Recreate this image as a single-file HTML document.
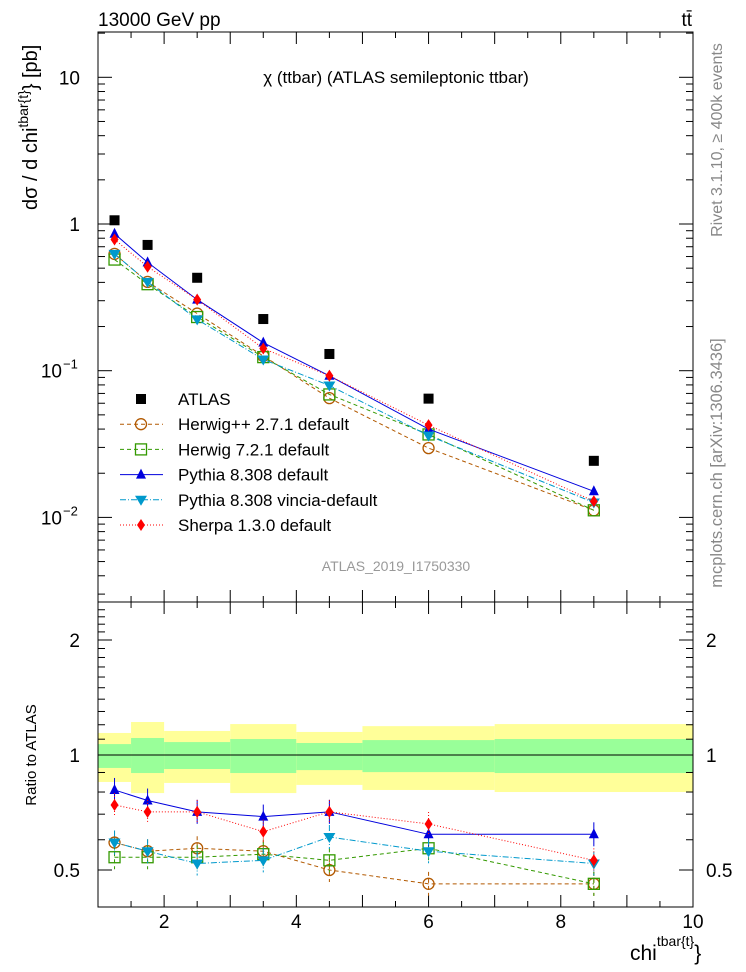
<!DOCTYPE html>
<html><head><meta charset="utf-8"><style>
body{margin:0;background:#fff;}
svg{display:block;font-family:"Liberation Sans",sans-serif;}
</style></head><body>
<svg id="chart" width="746" height="972" viewBox="0 0 746 972" xmlns="http://www.w3.org/2000/svg">
<g id="bands"></g>
<g id="axes"></g>
<g id="series"></g>
<text x="98" y="26" font-size="19">13000 GeV pp</text>
<text x="692" y="26" font-size="19" text-anchor="end">tt̄</text>
<text x="396" y="83" font-size="17" text-anchor="middle">χ (ttbar) (ATLAS semileptonic ttbar)</text>
<text x="396" y="571" font-size="14" fill="#999" text-anchor="middle">ATLAS_2019_I1750330</text>
<text transform="translate(37,210) rotate(-90)" font-size="20">dσ / d chi<tspan dy="-9" font-size="14">tbar{t}</tspan><tspan dy="9">} [pb]</tspan></text>
<text transform="translate(36,755) rotate(-90)" font-size="15" text-anchor="middle">Ratio to ATLAS</text>
<text x="630" y="960" font-size="21">chi<tspan dy="-14" font-size="14">tbar{t}</tspan><tspan dy="14">}</tspan></text>
<text transform="translate(722,140) rotate(-90)" font-size="16" fill="#888" text-anchor="middle">Rivet 3.1.10, ≥ 400k events</text>
<text transform="translate(722,463) rotate(-90)" font-size="16.5" fill="#888" text-anchor="middle">mcplots.cern.ch [arXiv:1306.3436]</text>
<g id="legend"></g>
</svg>
<script>
const xPts=[1.25,1.75,2.5,3.5,4.5,6,8.5];
const binEdges=[1,1.5,2,3,4,5,7,10];
const atlas=[1.06,0.72,0.43,0.225,0.13,0.0645,0.0243];
const ratioHerwigPP=[0.59,0.56,0.57,0.56,0.50,0.46,0.46];
const ratioHerwig7=[0.54,0.54,0.54,0.55,0.53,0.57,0.46];
const ratioPythia=[0.81,0.76,0.71,0.69,0.71,0.62,0.62];
const ratioVincia=[0.59,0.56,0.52,0.53,0.61,0.56,0.52];
const ratioSherpa=[0.74,0.71,0.71,0.63,0.71,0.66,0.53];
const bandOuterUp=[1.142,1.22,1.156,1.205,1.149,1.19,1.205];
const bandOuterDn=[0.85,0.795,0.845,0.795,0.835,0.81,0.80];
const bandInnerUp=[1.068,1.108,1.081,1.101,1.075,1.094,1.101];
const bandInnerDn=[0.925,0.897,0.919,0.897,0.913,0.902,0.897];
const xTicks=[2,4,6,8,10];
const ratioTicks=[0.5,1,2];

const NS="http://www.w3.org/2000/svg";
const L=98,R=693,T=32,M=602,B=907;
const X=v=>L+(v-1)*(R-L)/9;
const Y=v=>224-146.7*Math.log10(v);
const RY=v=>755-115*Math.log2(v);
function el(tag,attrs,parent,text){const e=document.createElementNS(NS,tag);for(const k in attrs)e.setAttribute(k,attrs[k]);if(text!==undefined)e.textContent=text;parent.appendChild(e);return e;}
const axes=document.getElementById('axes'),bands=document.getElementById('bands'),series=document.getElementById('series'),legend=document.getElementById('legend');

for(let i=0;i<7;i++){
 const x0=X(binEdges[i]),x1=X(binEdges[i+1]);
 const y=el('rect',{x:x0,y:RY(bandOuterUp[i]),width:x1-x0,height:RY(bandOuterDn[i])-RY(bandOuterUp[i]),fill:'#ffff99'},bands);
 
 
 const g=el('rect',{x:x0,y:RY(bandInnerUp[i]),width:x1-x0,height:RY(bandInnerDn[i])-RY(bandInnerUp[i]),fill:'#99ff99'},bands);
 
 
}
el('line',{x1:L,x2:R,y1:RY(1),y2:RY(1),stroke:'#000','stroke-width':1},bands);

el('rect',{x:L,y:T,width:R-L,height:M-T,fill:'none',stroke:'#000','stroke-width':1},axes);
el('rect',{x:L,y:M,width:R-L,height:B-M,fill:'none',stroke:'#000','stroke-width':1},axes);
for(let v=1;v<=10;v+=0.5){
 const big=Number.isInteger(v);const len=big?12:6;const x=X(v);
 for(const [y0,d] of [[T,1],[M,-1],[M,1],[B,-1]]) el('line',{x1:x,x2:x,y1:y0,y2:y0+d*len,stroke:'#000'},axes);
}
xTicks.forEach(v=>{const t=el('text',{x:X(v),y:928,'font-size':19,'text-anchor':'middle'},axes,String(v));
 
 });
for(let d=-3;d<=1;d++){for(let m=1;m<10;m++){const v=m*Math.pow(10,d);const y=Y(v);if(y<T||y>M)continue;const len=m==1?14:7;
 el('line',{x1:L,x2:L+len,y1:y,y2:y,stroke:'#000'},axes);el('line',{x1:R,x2:R-len,y1:y,y2:y,stroke:'#000'},axes);}}
const yl=[[10,'10'],[1,'1']];
yl.forEach(([v,s])=>{const t=el('text',{x:80,y:Y(v)+7,'font-size':19,'text-anchor':'end'},axes,s);});
[[0.1,'−1'],[0.01,'−2']].forEach(([v,s])=>{const t=el('text',{x:62,y:Y(v)+7,'font-size':19,'text-anchor':'end'},axes,'10');
 
 el('text',{x:63,y:Y(v)-2,'font-size':13},axes,s);});
for(let v=0.4;v<=2.5;v+=0.1){const y=RY(v);if(y<M||y>B)continue;const major=[0.5,1,2].some(a=>Math.abs(a-v)<1e-6);const len=major?14:7;
 el('line',{x1:L,x2:L+len,y1:y,y2:y,stroke:'#000'},axes);el('line',{x1:R,x2:R-len,y1:y,y2:y,stroke:'#000'},axes);}
ratioTicks.forEach(v=>{const t=el('text',{x:80,y:RY(v)+7,'font-size':19,'text-anchor':'end'},axes,String(v));
 
 const t2=el('text',{x:706,y:RY(v)+7,'font-size':19},axes,String(v));
 });

function marker(type,x,y,col,p){
 if(type=='sq')return el('rect',{x:x-5,y:y-5,width:10,height:10,fill:'#000'},p);
 if(type=='circ')return el('circle',{cx:x,cy:y,r:5.5,fill:'none',stroke:col,'stroke-width':1.3},p);
 if(type=='osq')return el('rect',{x:x-5.5,y:y-5.5,width:11,height:11,fill:'none',stroke:col,'stroke-width':1.3},p);
 if(type=='tri')return el('path',{d:`M${x} ${y-6}L${x+5} ${y+4}L${x-5} ${y+4}Z`,fill:col},p);
 if(type=='itri')return el('path',{d:`M${x} ${y+6}L${x+6} ${y-4}L${x-6} ${y-4}Z`,fill:col},p);
 if(type=='dia')return el('path',{d:`M${x} ${y-6}L${x+4} ${y}L${x} ${y+6}L${x-4} ${y}Z`,fill:col},p);
}
const defs=[
 ['herwigpp','Herwig++ 2.7.1 default',ratioHerwigPP,'#b25900','circ','4,3'],
 ['herwig7','Herwig 7.2.1 default',ratioHerwig7,'#339900','osq','4,3'],
 ['pythia','Pythia 8.308 default',ratioPythia,'#0000dd','tri',''],
 ['vincia','Pythia 8.308 vincia-default',ratioVincia,'#0099cc','itri','6,2,1,2'],
 ['sherpa','Sherpa 1.3.0 default',ratioSherpa,'#ff0000','dia','1,2'],
];
defs.forEach(([id,label,rat,col,mk,dash])=>{
 const g=el('g',{},series);
 
 
 const pts=xPts.map((x,i)=>[X(x),Y(atlas[i]*rat[i])]);
 el('polyline',{points:pts.map(p=>p.join(',')).join(' '),fill:'none',stroke:col,'stroke-width':1,'stroke-dasharray':dash},g);
 pts.forEach(([x,y])=>{const m=marker(mk,x,y,col,g);});
 const rp=xPts.map((x,i)=>[X(x),RY(rat[i])]);
 el('polyline',{points:rp.map(p=>p.join(',')).join(' '),fill:'none',stroke:col,'stroke-width':1,'stroke-dasharray':dash},g);
 rp.forEach(([x,y])=>{el('line',{x1:x,x2:x,y1:y-12,y2:y+12,stroke:col,'stroke-dasharray':dash},g);const m=marker(mk,x,y,col,g);});
});
atlas.forEach((v,i)=>{const m=marker('sq',X(xPts[i]),Y(v),'#000',series);});
const rows=[['ATLAS','sq','#000',null]].concat(defs.map(d=>[d[1],d[4],d[3],d[5]]));
rows.forEach(([lab,mk,col,dash],i)=>{
 const y=399+i*25.2;
 const g=el('g',{},legend);
 
 
 if(dash!==null)el('line',{x1:120,x2:163,y1:y,y2:y,stroke:col,'stroke-dasharray':dash},g);
 marker(mk,141,y,col,g);
 el('text',{x:178,y:y+6,'font-size':17},g,lab);
});
</script>
</body></html>
